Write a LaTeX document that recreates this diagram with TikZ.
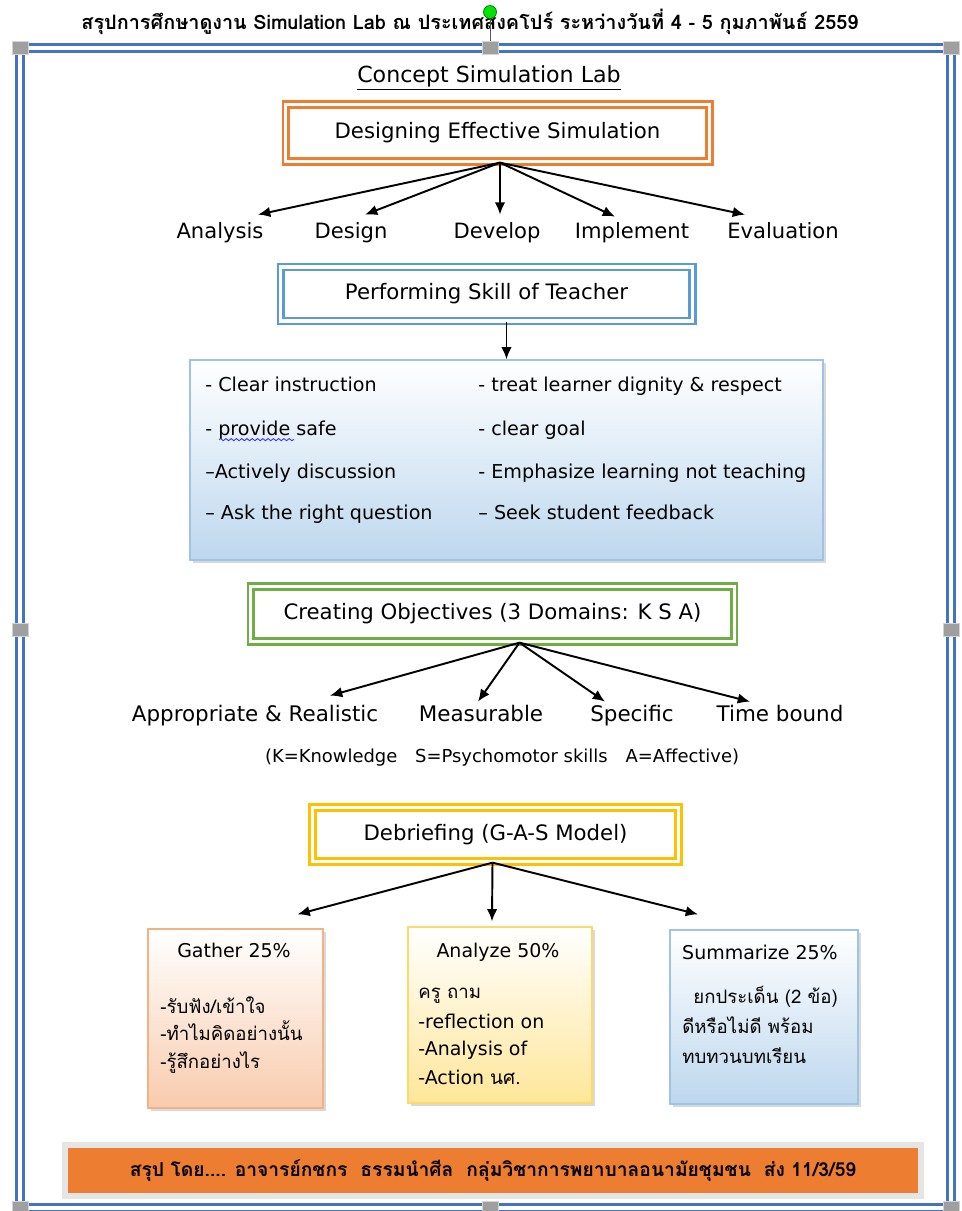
\documentclass[tikz,border=0pt]{standalone}
\usepackage{fontspec}
\setmainfont{DejaVu Sans}
\newfontfamily\thaifont[Script=Thai]{Loma}
\usepackage{xcolor}
\usetikzlibrary{positioning, arrows.meta, shadows, decorations.pathmorphing}

\definecolor{frameblue}{HTML}{4472C4}
\definecolor{offorange}{HTML}{ED7D31}
\definecolor{offblue}{HTML}{5B9BD5}
\definecolor{offgreen}{HTML}{70AD47}
\definecolor{offgold}{HTML}{FFC000}
\definecolor{lightblue}{HTML}{BDD7EE}
\definecolor{edgeblue}{HTML}{9DC3E6}
\definecolor{peach}{HTML}{F8CBAD}
\definecolor{edgepeach}{HTML}{F4B183}
\definecolor{cream}{HTML}{FFE699}
\definecolor{edgecream}{HTML}{FFD966}
\definecolor{rotgreen}{HTML}{00E600}

\tikzset{
  title box/.style={draw=#1, line width=1.3pt, double=white, double distance=2pt,
    font=\fontsize{12.1}{14}\selectfont},
  step label/.style={font=\fontsize{12}{14}\selectfont, inner sep=1pt, text height=9pt, text depth=2.8pt,
    yshift=-1.2pt},
  aim label/.style={font=\fontsize{12.2}{14}\selectfont, inner sep=1pt, text height=9pt, text depth=2.8pt,
    yshift=-1.2pt},
  skill text/.style={font=\fontsize{10.9}{13}\selectfont, inner sep=0pt, anchor=west,
    text height=8pt, text depth=2.5pt, yshift=-1.5pt},
  small text/.style={font=\fontsize{10.8}{13}\selectfont, inner sep=0pt, text height=8pt, text depth=2.5pt,
    yshift=-1.2pt},
  thai text/.style={font=\thaifont\fontsize{10.6}{13}\selectfont, inner sep=0pt, anchor=west,
    text height=8pt, text depth=2.5pt, yshift=-1.2pt},
  grad box/.style 2 args={draw=#1, line width=0.8pt, top color=white, bottom color=#2,
    drop shadow={opacity=0.3, shadow xshift=1.5pt, shadow yshift=-1.5pt}},
  handle/.style={draw=gray!35, fill=gray!75, minimum width=0.32cm, minimum height=0.26cm, inner sep=0pt},
  arr/.style={-{Latex[length=7pt,width=6pt]}, line width=1.1pt},
}

\begin{document}
\begin{tikzpicture}[x=0.02cm, y=-0.02cm]
  \useasboundingbox (0,0) rectangle (961,1211);

  % Frame and handles
  \draw[frameblue, line width=1.6pt, double=white, double distance=2pt] (20,48) rectangle (951,1208);
  \foreach \hx/\hy [count=\i] in {20/48, 490/48, 951/48, 20/630, 951/630, 20/1208, 490/1208, 951/1208}
    \node[handle] (h\i) at (\hx,\hy) {};
  \node[font=\thaifont\bfseries\fontsize{11.3}{13}\selectfont] (title) at (470,22)
    {สรุปการศึกษาดูงาน Simulation Lab ณ ประเทศสิงคโปร์ ระหว่างวันที่ 4 - 5 กุมภาพันธ์ 2559};
  \node[circle, draw=green!45!black, fill=rotgreen, minimum size=0.26cm, inner sep=0pt] (rot) at (490,12) {};
  \draw[gray!70!black] (rot) -- (h2);

  % Define nodes
  \node[font=\fontsize{12.6}{14}\selectfont] (concept) at (489,78) {\underline{Concept Simulation Lab}};
  \node[title box=offorange, minimum width=8.48cm, minimum height=1.14cm] (effsim) at (497.5,133)
    {Designing Effective Simulation};
  %--
  \node[step label] (analysis) at (220,231) {Analysis};
  \node[step label] (design) at (351,231) {Design};
  \node[step label] (develop) at (497,231) {Develop};
  \node[step label] (implement) at (632,231) {Implement};
  \node[step label] (evaluation) at (783,231) {Evaluation};
  %--
  \node[title box=offblue, minimum width=8.24cm, minimum height=1.08cm] (perform) at (486.5,294)
    {Performing Skill of Teacher};
  \node[grad box={edgeblue}{lightblue}, minimum width=12.66cm, minimum height=4cm] (skills) at (506.5,460) {};
  \foreach \ry/\lt/\rt [count=\i] in {
      384/{- Clear instruction}/{- treat learner dignity \& respect},
      428/{- provide safe}/{- clear goal},
      471/{--Actively discussion}/{- Emphasize learning not teaching},
      512/{-- Ask the right question}/{-- Seek student feedback}} {
    \node[skill text] (skl\i) at (205,\ry) {\lt};
    \node[skill text] (skr\i) at (478,\ry) {\rt};
  }
  \draw[blue!80, line width=0.5pt, decorate, decoration={snake, amplitude=0.6pt, segment length=3pt}]
    (skl2.west) ++(14,9) -- ++(75,0);
  %--
  \node[title box=offgreen, minimum width=9.68cm, minimum height=1.1cm] (objective) at (492.5,614)
    {Creating Objectives (3 Domains: K S A)};
  \node[aim label] (realistic) at (255,714) {Appropriate \& Realistic};
  \node[aim label] (measurable) at (481,714) {Measurable};
  \node[aim label] (specific) at (632,714) {Specific};
  \node[aim label] (timebound) at (780,714) {Time bound};
  \node[font=\fontsize{10.2}{12}\selectfont] (ksa) at (502,758)
    {(K=Knowledge\quad S=Psychomotor skills\quad A=Affective)};
  %--
  \node[title box=offgold, minimum width=7.32cm, minimum height=1.08cm] (debrief) at (495.5,834.5)
    {Debriefing (G-A-S Model)};
  \node[grad box={edgepeach}{peach}, minimum width=3.5cm, minimum height=3.58cm] (gather) at (235.5,1018.5) {};
  \node[grad box={edgecream}{cream}, minimum width=3.68cm, minimum height=3.52cm] (analyze) at (500,1015) {};
  \node[grad box={edgeblue}{lightblue}, minimum width=3.76cm, minimum height=3.48cm] (summarize) at (764,1017) {};
  \node[small text] (gathertitle) at (234,951) {Gather 25\%};
  \node[thai text] (g1) at (160,1007) {-รับฟัง/เข้าใจ};
  \node[thai text] (g2) at (160,1034) {-ทำไมคิดอย่างนั้น};
  \node[thai text] (g3) at (160,1062) {-รู้สึกอย่างไร};
  \node[small text] (analyzetitle) at (498,951) {Analyze 50\%};
  \node[thai text] (a1) at (418,992) {ครู ถาม};
  \node[small text, anchor=west] (a2) at (418,1022) {-reflection on};
  \node[small text, anchor=west] (a3) at (418,1049) {-Analysis of};
  \node[small text, anchor=west] (a4) at (418,1078) {-Action {\thaifont นศ.}};
  \node[small text] (summarizetitle) at (760,953) {Summarize 25\%};
  \node[thai text] (s1) at (693,997) {ยกประเด็น (2 ข้อ)};
  \node[thai text] (s2) at (682,1027) {ดีหรือไม่ดี พร้อม};
  \node[thai text] (s3) at (682,1057) {ทบทวนบทเรียน};
  %--
  \node[fill=offorange, draw=gray!20, line width=3.4pt, minimum width=17.12cm, minimum height=1.02cm,
    font=\thaifont\bfseries\fontsize{10.95}{12}\selectfont] (footer) at (493,1170.5)
    {สรุป โดย.... อาจารย์กชกร\ \ ธรรมนำศีล\ \ กลุ่มวิชาการพยาบาลอนามัยชุมชน\ \ ส่ง 11/3/59};

  % Connect the nodes
  \draw[arr] ([xshift=0.05cm]effsim.south) -- ([shift={(38,-6)}]analysis.north);
  \draw[arr] ([xshift=0.05cm]effsim.south) -- ([shift={(14,-6)}]design.north);
  \draw[arr] ([xshift=0.05cm]effsim.south) -- ([shift={(3,-6)}]develop.north);
  \draw[arr] ([xshift=0.05cm]effsim.south) -- ([shift={(-17,-4)}]implement.north);
  \draw[arr] ([xshift=0.05cm]effsim.south) -- ([shift={(-38,-6)}]evaluation.north);
  \draw[arr] (perform.south -| skills.north) -- (skills.north);
  \draw[arr] ([shift={(27,0)}]objective.south) -- ([shift={(75,-8)}]realistic.north);
  \draw[arr] ([shift={(27,0)}]objective.south) -- ([shift={(-3,-2)}]measurable.north);
  \draw[arr] ([shift={(27,0)}]objective.south) -- ([shift={(-27,-2)}]specific.north);
  \draw[arr] ([shift={(27,0)}]objective.south) -- ([shift={(-30,-2)}]timebound.north);
  \draw[arr] ([shift={(-3,0)}]debrief.south) -- ([shift={(62,-14)}]gather.north);
  \draw[arr] ([shift={(-3,0)}]debrief.south) -- ([shift={(-8,-5)}]analyze.north);
  \draw[arr] ([shift={(-3,0)}]debrief.south) -- ([shift={(-66,-15)}]summarize.north);
\end{tikzpicture}
\end{document}
